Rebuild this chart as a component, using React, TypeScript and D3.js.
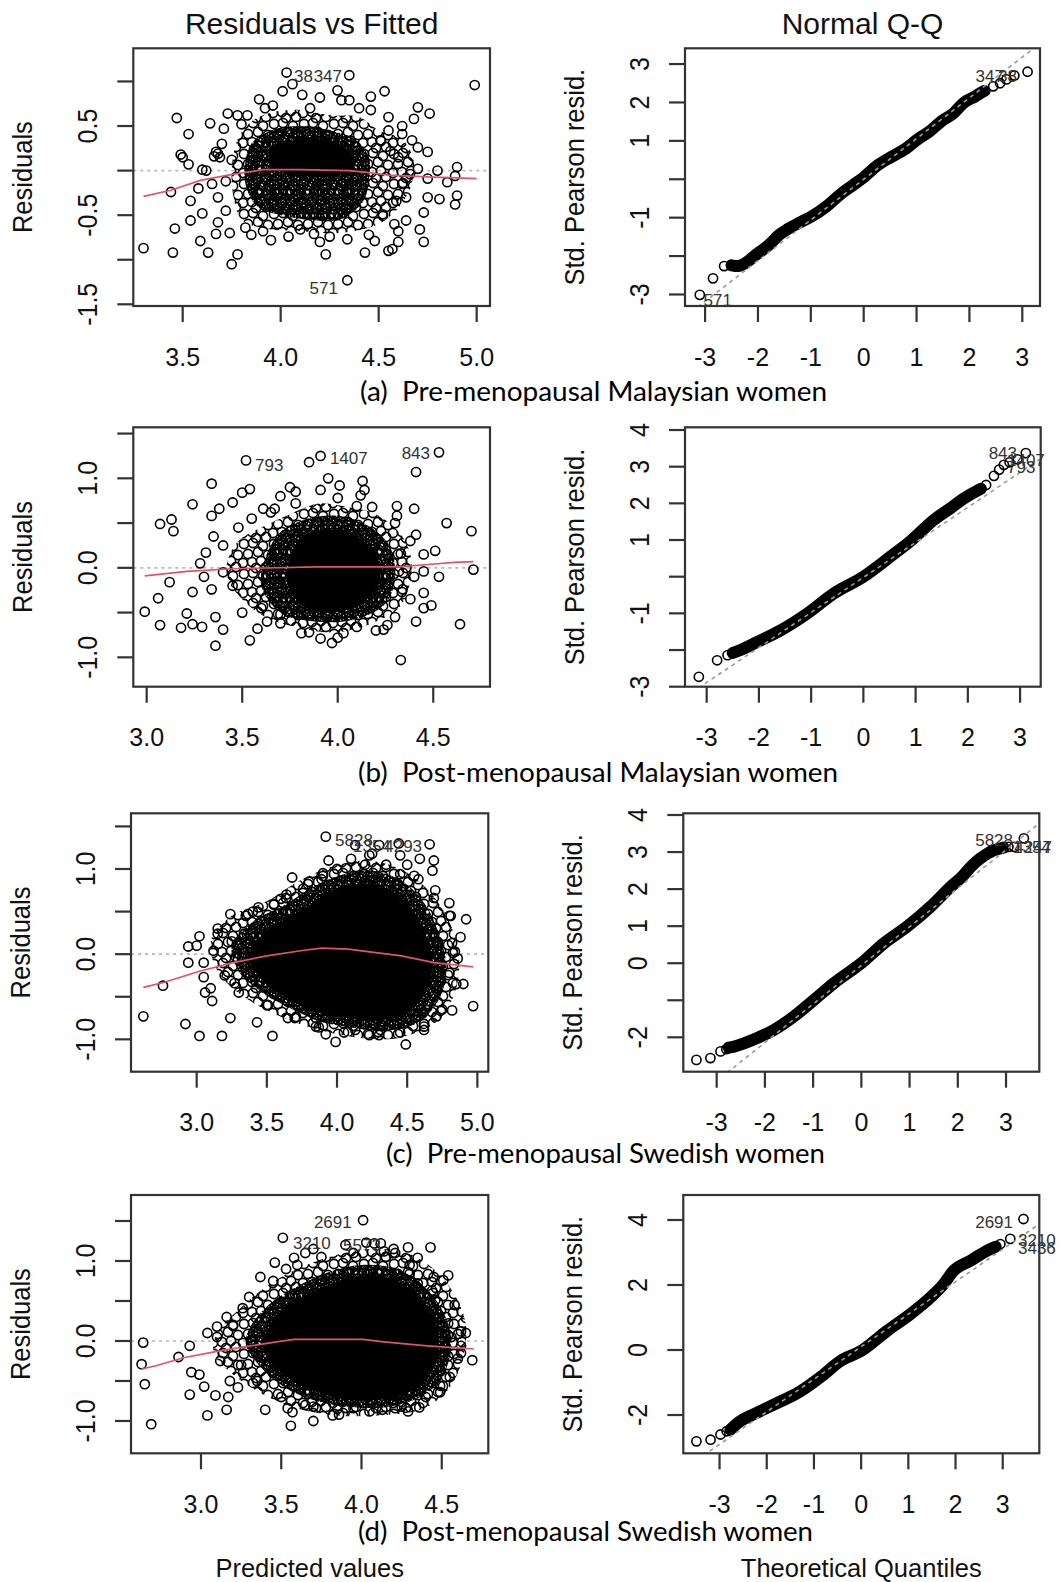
import React from 'react';
import * as d3 from 'd3';

type P = [number, number];
type Lab = [string, number, number, 'start' | 'end'];

// ---------------- (a) Pre-menopausal Malaysian women ----------------
const aResidPoints: P[] = [
  [3.30,-0.87],[3.45,-0.92],[3.47,0.59],[3.53,0.41],[3.49,0.18],[3.50,0.15],[3.53,0.07],[3.44,-0.24],[3.54,-0.34],[3.54,-0.56],
  [3.46,-0.65],[3.60,0.01],[3.64,0.53],[3.59,-0.79],[3.63,-0.92],[3.67,-0.71],[3.75,-1.05],[3.78,-0.94],[3.73,0.64],[3.78,0.62],
  [3.71,0.47],[3.83,0.62],[3.89,0.80],[3.96,0.73],[4.01,0.89],[4.03,1.10],[4.06,0.97],[4.11,0.85],[4.20,0.82],[4.29,0.90],
  [4.35,1.07],[4.31,0.79],[4.35,0.79],[4.46,0.83],[4.53,0.89],[4.46,0.68],[4.55,0.60],[4.70,0.71],[4.76,0.64],[4.68,0.58],
  [4.99,0.96],[4.75,0.21],[4.70,0.26],[4.90,0.04],[4.89,-0.06],[4.90,-0.28],[4.89,-0.38],[4.85,-0.13],[4.80,0.0],[4.75,-0.09],
  [4.81,-0.32],[4.75,-0.30],[4.73,-0.47],[4.71,-0.66],[4.73,-0.80],[4.64,-0.56],[4.60,-0.68],[4.60,-0.80],[4.57,-0.88],[4.55,-0.90],
  [4.43,-0.92],[4.48,-0.79],[4.34,-0.77],[4.34,-1.23],[4.23,-0.94],[4.25,-0.74],[4.17,-0.71],[4.10,-0.66],[4.04,-0.74],[3.91,-0.68],
  [3.82,-0.64],[4.52,-0.49],[4.59,-0.34],[4.64,-0.30],[4.66,-0.04],[4.70,0.02],[4.67,0.34],[4.62,0.41],[4.55,0.45],[4.51,0.34],
  [4.56,0.22],[3.66,0.16],[3.68,0.19],[3.67,0.21],[3.69,0.15],[3.62,0.0],[3.65,-0.15],[3.68,-0.30],[3.72,-0.45],[3.70,0.30],
  [3.75,0.12],[3.58,-0.20],[3.72,-0.12],[3.60,-0.48],[3.68,-0.58],[3.80,0.52],[3.92,0.70],[4.15,0.70],[4.40,0.70],[4.62,0.50],
  [4.60,0.15],[4.62,-0.15],[4.58,-0.60],[4.45,-0.72],[4.20,-0.80],[3.95,-0.78],[3.85,-0.72],[3.74,-0.70]
];
const aResidCore: P[] = [[3.78,0.35],[3.85,0.55],[3.95,0.65],[4.10,0.68],[4.25,0.62],[4.40,0.60],[4.50,0.45],[4.62,0.35],[4.68,0.10],[4.66,-0.20],[4.60,-0.42],[4.50,-0.60],[4.30,-0.70],[4.10,-0.68],[3.92,-0.65],[3.80,-0.55],[3.76,-0.30],[3.75,0.0]];
const aResidDense: P[] = [[3.85,0.30],[3.95,0.45],[4.10,0.50],[4.25,0.45],[4.38,0.35],[4.45,0.15],[4.45,-0.10],[4.42,-0.35],[4.30,-0.55],[4.15,-0.55],[4.00,-0.50],[3.88,-0.40],[3.82,-0.15],[3.82,0.10]];
const aResidSolid: P[] = [[3.95,0.25],[4.10,0.35],[4.30,0.30],[4.38,0.10],[4.30,-0.05],[4.10,-0.05],[3.95,0.05]];
const aLoess: P[] = [[3.30,-0.29],[3.44,-0.22],[3.59,-0.11],[3.76,-0.04],[3.91,0.01],[4.10,0.01],[4.35,0.0],[4.44,-0.02],[4.55,-0.05],[4.75,-0.07],[5.00,-0.09]];
const aResidLabels: Lab[] = [['38',4.068,1.06,'start'],['347',4.313,1.06,'end'],['571',4.292,-1.32,'end']];
const aResidXTicks = [3.5, 4.0, 4.5, 5.0];
const aResidXLabels = ['3.5', '4.0', '4.5', '5.0'];
const aResidYTicks = [-1.5, -1.0, -0.5, 0, 0.5, 1.0];
const aResidYLabels = ['-1.5', '', '-0.5', '', '0.5', ''];

const aQQBand: P[] = [[-2.50,-2.24],[-2.38,-2.26],[-2.20,-2.15],[-2.07,-2.0],[-1.80,-1.72],[-1.60,-1.45],[-1.44,-1.30],[-1.20,-1.12],[-1.00,-0.98],[-0.70,-0.70],[-0.43,-0.38],[-0.20,-0.15],[0.0,0.05],[0.25,0.35],[0.52,0.58],[0.80,0.80],[1.02,1.04],[1.25,1.25],[1.46,1.50],[1.70,1.72],[1.90,2.0],[2.10,2.15],[2.28,2.30]];
const aQQPoints: P[] = [[-3.10,-3.01],[-2.85,-2.58],[-2.64,-2.26],[2.30,2.30],[2.45,2.42],[2.58,2.50],[2.70,2.60],[2.85,2.70],[3.10,2.80]];
const aQQLine: P = [0.0, 1.06];
const aQQLabels: Lab[] = [['571',-3.03,-3.14,'start'],['347',2.653,2.69,'end'],['38',2.90,2.69,'end']];
const aQQYTicks = [-3, -2, -1, 0, 1, 2, 3];
const aQQYLabels = ['-3', '', '-1', '', '1', '2', '3'];

// ---------------- (b) Post-menopausal Malaysian women ----------------
const bResidPoints: P[] = [
  [2.99,-0.49],[3.07,-0.64],[3.06,-0.34],[3.07,0.49],[3.13,0.54],[3.14,0.41],[3.12,-0.16],[3.18,-0.67],[3.21,-0.51],[3.24,-0.63],
  [3.29,-0.66],[3.24,-0.27],[3.24,0.71],[3.34,0.94],[3.34,0.58],[3.38,0.66],[3.34,-0.24],[3.31,0.17],[3.36,-0.87],[3.40,-0.69],
  [3.36,-0.55],[3.45,0.73],[3.50,0.84],[3.54,0.88],[3.52,1.20],[3.54,-0.81],[3.58,-0.68],[3.63,-0.60],[3.61,0.66],[3.67,0.66],
  [3.70,0.80],[3.75,0.90],[3.78,0.85],[3.85,1.18],[3.91,1.25],[3.91,0.87],[3.95,1.00],[4.01,0.92],[4.13,0.97],[4.14,0.87],
  [4.12,0.81],[4.10,0.69],[4.31,0.69],[4.31,0.58],[4.40,0.66],[4.41,1.07],[4.53,1.29],[4.57,0.50],[4.70,0.41],[4.41,0.37],
  [4.45,0.15],[4.51,0.19],[4.45,-0.04],[4.53,-0.10],[4.71,-0.02],[4.45,-0.28],[4.45,-0.45],[4.49,-0.42],[4.41,-0.60],[4.64,-0.63],
  [4.33,-1.03],[4.34,-0.24],[4.24,-0.69],[4.26,-0.64],[4.10,-0.66],[4.03,-0.73],[3.97,-0.84],[3.91,-0.79],[3.81,-0.73],[3.70,-0.52],
  [4.33,0.16],[4.32,-0.04],[3.40,0.25],[3.45,-0.20],[3.48,0.45],[3.55,0.55],[3.60,-0.45],[3.50,-0.50],[3.65,0.62],[3.78,0.72],
  [4.00,0.78],[4.18,0.68],[4.30,0.50],[4.38,0.30],[4.40,-0.10],[4.38,-0.35],[4.30,-0.55],[4.20,-0.70],[4.00,-0.78],[3.85,-0.72],
  [3.70,-0.62],[3.40,-0.05],[3.35,0.35],[3.30,-0.10],[3.28,0.05]
];
const bResidCore: P[] = [[3.42,0.05],[3.48,0.30],[3.60,0.45],[3.75,0.60],[3.90,0.72],[4.05,0.68],[4.20,0.60],[4.32,0.40],[4.38,0.15],[4.38,-0.15],[4.32,-0.45],[4.18,-0.62],[4.00,-0.72],[3.82,-0.68],[3.62,-0.55],[3.50,-0.35],[3.43,-0.15]];
const bResidDense: P[] = [[3.62,0.10],[3.70,0.40],[3.85,0.55],[4.00,0.58],[4.15,0.48],[4.27,0.25],[4.30,-0.10],[4.25,-0.40],[4.08,-0.58],[3.88,-0.60],[3.70,-0.50],[3.60,-0.20]];
const bResidSolid: P[] = [[3.75,0.10],[3.82,0.35],[3.95,0.42],[4.10,0.35],[4.20,0.15],[4.22,-0.15],[4.12,-0.40],[3.95,-0.50],[3.82,-0.42],[3.74,-0.20]];
const bLoess: P[] = [[2.99,-0.09],[3.21,-0.04],[3.45,-0.01],[3.89,0.01],[4.32,0.01],[4.49,0.04],[4.61,0.06],[4.71,0.07]];
const bResidLabels: Lab[] = [['793',3.567,1.149,'start'],['1407',3.959,1.227,'start'],['843',4.483,1.283,'end']];
const bResidXTicks = [3.0, 3.5, 4.0, 4.5];
const bResidXLabels = ['3.0', '3.5', '4.0', '4.5'];
const bResidYTicks = [-1.0, -0.5, 0, 0.5, 1.0, 1.5];
const bResidYLabels = ['-1.0', '', '0.0', '', '1.0', ''];

const bQQBand: P[] = [[-2.50,-2.08],[-2.35,-2.0],[-2.03,-1.78],[-1.58,-1.46],[-1.07,-1.0],[-0.56,-0.45],[0.0,0.0],[0.52,0.55],[0.91,0.98],[1.35,1.55],[1.67,1.87],[1.93,2.14],[2.25,2.40]];
const bQQPoints: P[] = [[-3.15,-2.73],[-2.80,-2.28],[-2.60,-2.14],[-2.45,-2.05],[2.35,2.50],[2.50,2.75],[2.60,2.92],[2.69,3.05],[2.80,3.12],[2.95,3.20],[3.11,3.37]];
const bQQLine: P = [-0.02, 0.955];
const bQQLabels: Lab[] = [['843',2.942,3.373,'end'],['1407',2.75,3.18,'start'],['793',2.75,3.0,'start']];
const bQQYTicks = [-3, -2, -1, 0, 1, 2, 3, 4];
const bQQYLabels = ['-3', '', '-1', '', '1', '2', '3', '4'];

// ---------------- (c) Pre-menopausal Swedish women ----------------
const cResidPoints: P[] = [
  [2.62,-0.73],[2.76,-0.37],[2.92,-0.82],[3.02,-0.96],[2.94,0.09],[2.94,-0.10],[3.02,0.21],[3.05,-0.27],[3.06,-0.45],[3.11,-0.55],
  [3.12,0.04],[3.15,0.24],[3.18,-0.96],[3.24,-0.75],[3.24,0.47],[3.27,-0.34],[3.35,0.45],[3.44,0.55],[3.43,-0.80],[3.54,-0.96],
  [3.55,0.58],[3.64,0.70],[3.68,0.90],[3.65,-0.75],[3.76,0.77],[3.89,0.88],[3.94,1.10],[3.92,1.38],[3.99,-1.03],[3.92,-0.94],
  [3.87,-0.86],[4.13,1.28],[4.23,1.16],[4.30,1.28],[4.44,1.30],[4.45,1.16],[4.66,1.29],[4.69,1.10],[4.68,0.98],[4.59,1.12],
  [4.58,0.88],[4.45,0.94],[4.69,0.66],[4.80,0.60],[4.81,0.45],[4.92,0.41],[4.82,0.13],[4.84,0.03],[4.72,0.10],[4.69,0.22],
  [4.80,-0.22],[4.90,-0.35],[4.97,-0.61],[4.82,-0.66],[4.71,-0.73],[4.62,-0.89],[4.49,-1.06],[4.23,-0.95],[4.13,-0.89],[4.31,-0.89],
  [4.43,-0.81],[3.15,0.30],[3.25,0.15],[3.20,-0.25],[3.30,-0.45],[3.40,0.50],[3.50,-0.60],[3.60,0.65],[3.70,-0.75],[3.80,0.85],
  [3.85,-0.85],[4.00,1.00],[4.05,-0.92],[4.20,1.05],[4.30,-0.95],[4.35,1.05],[4.45,-0.92],[4.55,0.92],[4.62,-0.85],[4.70,0.75],
  [4.75,-0.65],[4.80,0.45],[4.85,-0.35],[4.88,0.20],[4.86,-0.05],[4.10,1.12],[4.25,1.18],[4.50,1.05],[3.90,0.95],[3.10,-0.40],
  [3.00,0.10],[3.05,-0.10]
];
const cResidCore: P[] = [[3.10,0.15],[3.25,0.45],[3.50,0.62],[3.72,0.85],[3.95,1.02],[4.20,1.10],[4.45,1.00],[4.65,0.75],[4.80,0.38],[4.87,-0.05],[4.84,-0.45],[4.72,-0.78],[4.45,-0.98],[4.15,-0.98],[3.85,-0.88],[3.58,-0.72],[3.32,-0.48],[3.15,-0.20]];
const cResidDense: P[] = [[3.25,0.10],[3.40,0.38],[3.62,0.57],[3.82,0.78],[4.03,0.93],[4.25,0.98],[4.47,0.85],[4.63,0.58],[4.73,0.22],[4.78,-0.15],[4.73,-0.52],[4.58,-0.80],[4.35,-0.90],[4.10,-0.86],[3.88,-0.79],[3.66,-0.63],[3.45,-0.43],[3.30,-0.20]];
const cResidSolid: P[] = [[3.40,0.10],[3.55,0.33],[3.75,0.52],[3.95,0.72],[4.18,0.83],[4.40,0.72],[4.55,0.48],[4.65,0.15],[4.68,-0.15],[4.62,-0.48],[4.48,-0.70],[4.28,-0.78],[4.05,-0.74],[3.85,-0.68],[3.65,-0.52],[3.48,-0.32],[3.38,-0.10]];
const cLoess: P[] = [[2.62,-0.39],[2.77,-0.33],[3.02,-0.20],[3.26,-0.10],[3.50,-0.02],[3.74,0.04],[3.89,0.07],[4.08,0.06],[4.22,0.03],[4.46,-0.02],[4.69,-0.10],[4.97,-0.15]];
const cResidLabels: Lab[] = [['5828',3.986,1.341,'start'],['1354',4.114,1.27,'start'],['4293',4.606,1.27,'end']];
const cResidXTicks = [3.0, 3.5, 4.0, 4.5, 5.0];
const cResidXLabels = ['3.0', '3.5', '4.0', '4.5', '5.0'];
const cResidYTicks = [-1.0, -0.5, 0, 0.5, 1.0, 1.5];
const cResidYLabels = ['-1.0', '', '0.0', '', '1.0', ''];

const cQQBand: P[] = [[-2.75,-2.28],[-2.64,-2.25],[-2.16,-2.02],[-1.81,-1.80],[-1.40,-1.44],[-0.98,-0.99],[-0.57,-0.54],[0.0,0.0],[0.47,0.54],[0.95,0.99],[1.44,1.53],[1.85,2.06],[2.10,2.35],[2.27,2.60],[2.47,2.83],[2.75,3.05],[2.95,3.12]];
const cQQPoints: P[] = [[-3.42,-2.61],[-3.13,-2.56],[-2.92,-2.38],[-2.80,-2.32],[3.05,3.14],[3.17,3.14],[3.37,3.37]];
const cQQLine: P = [-0.06, 1.04];
const cQQLabels: Lab[] = [['5828',3.145,3.325,'end'],['1354',3.145,3.15,'start'],['4247',3.17,3.15,'start']];
const cQQYTicks = [-2, -1, 0, 1, 2, 3, 4];
const cQQYLabels = ['-2', '', '0', '1', '2', '3', '4'];

// ---------------- (d) Post-menopausal Swedish women ----------------
const dResidPoints: P[] = [
  [2.64,-0.02],[2.63,-0.29],[2.65,-0.54],[2.69,-1.04],[2.86,-0.20],[2.93,-0.06],[2.94,-0.39],[2.93,-0.67],[2.99,-0.42],[3.02,-0.57],
  [3.04,-0.93],[3.09,-0.68],[3.04,0.10],[3.10,0.18],[3.16,0.30],[3.16,-0.86],[3.17,-0.70],[3.23,-0.58],[3.26,0.41],[3.37,0.80],
  [3.40,-0.86],[3.46,0.98],[3.51,1.29],[3.53,0.90],[3.56,-1.06],[3.54,-0.84],[3.57,-0.89],[3.58,1.04],[3.70,-1.00],[3.70,-0.82],
  [4.01,1.51],[3.82,-0.93],[3.86,-0.92],[3.95,-0.84],[4.03,1.23],[4.12,1.22],[4.14,1.12],[4.21,1.10],[4.29,1.17],[4.35,1.04],
  [4.43,1.17],[4.30,0.84],[4.35,0.72],[4.51,0.76],[4.54,0.82],[4.44,0.63],[4.46,0.51],[4.41,0.37],[4.54,0.22],[4.62,0.12],
  [4.56,0.05],[4.62,-0.06],[4.54,-0.19],[4.60,-0.22],[4.69,-0.24],[4.49,-0.56],[4.49,-0.64],[4.36,-0.83],[4.29,-0.88],[4.21,-0.84],
  [4.13,-0.86],[3.20,0.20],[3.25,-0.30],[3.30,0.55],[3.35,-0.50],[3.45,0.75],[3.50,-0.70],[3.60,0.95],[3.65,-0.80],[3.75,1.05],
  [3.85,-0.85],[3.95,1.10],[4.05,-0.88],[4.15,1.05],[4.25,-0.82],[4.30,0.95],[4.40,-0.70],[4.45,0.80],[4.55,-0.45],[4.58,0.45],
  [4.62,-0.15],[4.65,0.10],[3.12,-0.25],[3.10,0.05],[3.18,-0.50],[3.70,1.15],[3.90,1.20],[4.20,1.15],[3.65,1.10],[4.08,1.22]
];
const dResidCore: P[] = [[3.10,0.10],[3.25,0.42],[3.42,0.70],[3.60,0.90],[3.80,1.05],[4.05,1.15],[4.28,1.10],[4.45,0.90],[4.58,0.58],[4.65,0.20],[4.63,-0.22],[4.55,-0.58],[4.38,-0.85],[4.10,-0.93],[3.85,-0.93],[3.58,-0.83],[3.38,-0.66],[3.20,-0.42],[3.08,-0.15]];
const dResidDense: P[] = [[3.30,0.15],[3.42,0.45],[3.58,0.66],[3.78,0.85],[4.00,0.95],[4.22,0.90],[4.38,0.70],[4.50,0.40],[4.56,0.02],[4.52,-0.38],[4.40,-0.66],[4.18,-0.82],[3.90,-0.82],[3.67,-0.72],[3.50,-0.55],[3.36,-0.30],[3.28,-0.05]];
const dResidSolid: P[] = [[3.42,0.15],[3.52,0.42],[3.68,0.60],[3.85,0.74],[4.03,0.82],[4.22,0.75],[4.36,0.55],[4.45,0.28],[4.48,-0.05],[4.44,-0.38],[4.32,-0.62],[4.12,-0.73],[3.90,-0.73],[3.70,-0.62],[3.55,-0.47],[3.43,-0.25],[3.38,0.0]];
const dLoess: P[] = [[2.63,-0.35],[2.72,-0.31],[2.89,-0.21],[3.10,-0.13],[3.28,-0.07],[3.47,-0.01],[3.58,0.02],[3.83,0.02],[4.01,0.02],[4.14,-0.01],[4.24,-0.03],[4.41,-0.06],[4.70,-0.10]];
const dResidLabels: Lab[] = [['2691',3.939,1.491,'end'],['3210',3.573,1.225,'start'],['5573',3.885,1.20,'start']];
const dResidXTicks = [3.0, 3.5, 4.0, 4.5];
const dResidXLabels = ['3.0', '3.5', '4.0', '4.5'];
const dResidYTicks = [-1.0, -0.5, 0, 0.5, 1.0, 1.5];
const dResidYLabels = ['-1.0', '', '0.0', '', '1.0', ''];

const dQQBand: P[] = [[-2.77,-2.45],[-2.56,-2.19],[-2.28,-1.98],[-1.85,-1.68],[-1.29,-1.27],[-0.79,-0.75],[-0.44,-0.34],[0.0,-0.03],[0.55,0.59],[1.04,1.10],[1.47,1.62],[1.75,2.03],[1.96,2.44],[2.32,2.75],[2.67,3.06],[2.85,3.18]];
const dQQPoints: P[] = [[-3.49,-2.81],[-3.19,-2.76],[-2.98,-2.60],[-2.85,-2.50],[2.95,3.26],[3.16,3.42],[3.44,4.03]];
const dQQLine: P = [0.1, 1.0];
const dQQLabels: Lab[] = [['2691',3.218,3.948,'end'],['3210',3.324,3.385,'start'],['3436',3.324,3.14,'start']];
const dQQYTicks = [-2, 0, 2, 4];
const dQQYLabels = ['-2', '0', '2', '4'];

const qqXTicks = [-3, -2, -1, 0, 1, 2, 3];
const qqXLabels = ['-3', '-2', '-1', '0', '1', '2', '3'];

const captions = [
  '(a)  Pre-menopausal Malaysian women',
  '(b)  Post-menopausal Malaysian women',
  '(c)  Pre-menopausal Swedish women',
  '(d)  Post-menopausal Swedish women'
];

// ---------------- styling ----------------
const FONT = "'Liberation Sans', Arial, Helvetica, sans-serif";
const AX = '#333';
const RING_R = 4.6;
const RING_W = 1.6;
const MED_TILE: P[] = [[4,4],[13,3],[23,6],[28,15],[18,12],[8,14],[3,23],[12,22],[21,21],[26,27],[16,28]];
const DENSE_TILE: P[] = [
  [2,2],[8,2.5],[13,1.5],[19,2],[5,7],[10.5,7.5],[16,6.5],[22,7],[1.5,12],[7.5,12.5],[13,12],[18.5,11.5],
  [4.5,17],[10,17.5],[15.5,16.5],[21.5,17],[2,22],[7,22.5],[13,21.5],[19,22]
];

function wrap(pts: P[], w: number, h: number): P[] {
  const out: P[] = [];
  for (const [x, y] of pts) for (const dx of [-w, 0, w]) for (const dy of [-h, 0, h]) out.push([x + dx, y + dy]);
  return out;
}

function Defs() {
  return (
    <defs>
      <pattern id="ringsMed" width={30} height={30} patternUnits="userSpaceOnUse">
        {wrap(MED_TILE, 30, 30).map(([x, y], i) => (
          <circle key={i} cx={x} cy={y} r={RING_R} fill="none" stroke="#000" strokeWidth={RING_W} />
        ))}
      </pattern>
      <pattern id="ringsDense" width={24} height={24} patternUnits="userSpaceOnUse">
        {wrap(DENSE_TILE, 24, 24).map(([x, y], i) => (
          <circle key={i} cx={x} cy={y} r={RING_R} fill="none" stroke="#000" strokeWidth={RING_W} />
        ))}
      </pattern>
    </defs>
  );
}

type Box = { l: number; t: number; r: number; b: number };

function Axes(props: {
  x: d3.ScaleLinear<number, number>; y: d3.ScaleLinear<number, number>; box: Box;
  xTicks: number[]; xLabels: string[]; yTicks: number[]; yLabels: string[];
}) {
  const { x, y, box, xTicks, xLabels, yTicks, yLabels } = props;
  return (
    <g fontFamily={FONT}>
      {xTicks.map((v, i) => (
        <g key={'x' + i}>
          <line x1={x(v)} x2={x(v)} y1={box.b} y2={box.b + 16} stroke={AX} strokeWidth={2.2} />
          {xLabels[i] ? (
            <text x={x(v)} y={box.b + 59.5} textAnchor="middle" fontSize={25} fill="#111">{xLabels[i]}</text>
          ) : null}
        </g>
      ))}
      {yTicks.map((v, i) => (
        <g key={'y' + i}>
          <line x1={box.l - 16} x2={box.l} y1={y(v)} y2={y(v)} stroke={AX} strokeWidth={2.2} />
          {yLabels[i] ? (
            <text transform={`translate(${box.l - 46.5},${y(v)}) scale(1.12,1) rotate(-90)`} textAnchor="middle" dy="0.36em" fontSize={25} fill="#111">{yLabels[i]}</text>
          ) : null}
        </g>
      ))}
      <rect x={box.l} y={box.t} width={box.r - box.l} height={box.b - box.t} fill="none" stroke={AX} strokeWidth={2.2} />
    </g>
  );
}

function PointLabels({ labels, x, y }: { labels: Lab[]; x: d3.ScaleLinear<number, number>; y: d3.ScaleLinear<number, number> }) {
  return (
    <g fontFamily={FONT} fontSize={17} fill="#333">
      {labels.map(([t, lx, ly, anchor], i) => (
        <text key={i} x={x(lx)} y={y(ly)} dy="0.36em" textAnchor={anchor}>{t}</text>
      ))}
    </g>
  );
}

function Titles({ box, title, xTitle, yTitle }: { box: Box; title?: string; xTitle?: string; yTitle: string }) {
  const cx = (box.l + box.r) / 2;
  const cy = (box.t + box.b) / 2;
  return (
    <g fontFamily={FONT} fill="#111">
      {title ? <text x={cx} y={34} textAnchor="middle" fontSize={30}>{title}</text> : null}
      {xTitle ? <text x={cx} y={1577} textAnchor="middle" fontSize={25.5}>{xTitle}</text> : null}
      <text transform={`translate(${box.l - 111},${cy}) scale(1.08,1) rotate(-90)`} textAnchor="middle" dy="0.36em" fontSize={25.5}>{yTitle}</text>
    </g>
  );
}

function ResidPanel(props: {
  id: string; box: Box; xDomain: P; yDomain: P;
  xTicks: number[]; xLabels: string[]; yTicks: number[]; yLabels: string[];
  points: P[]; core: P[]; dense: P[]; solid: P[]; solidFill: string; loess: P[]; labels: Lab[];
  title?: string; xTitle?: string;
}) {
  const { id, box, xDomain, yDomain, points, core, dense, solid, solidFill, loess, labels } = props;
  const x = d3.scaleLinear().domain(xDomain).range([box.l, box.r]);
  const y = d3.scaleLinear().domain(yDomain).range([box.b, box.t]);
  const blob = d3.line<P>().x(d => x(d[0])).y(d => y(d[1])).curve(d3.curveCatmullRomClosed.alpha(0.5));
  const line = d3.line<P>().x(d => x(d[0])).y(d => y(d[1]));
  return (
    <g>
      <clipPath id={id}><rect x={box.l} y={box.t} width={box.r - box.l} height={box.b - box.t} /></clipPath>
      <g clipPath={`url(#${id})`}>
        <line x1={box.l} x2={box.r} y1={y(0)} y2={y(0)} stroke="#b8b8b8" strokeWidth={1.6} strokeDasharray="3 4" />
        <path d={blob(core) || ''} fill="url(#ringsMed)" />
        <path d={blob(dense) || ''} fill="url(#ringsDense)" />
        <path d={blob(solid) || ''} fill={solidFill} />
        {points.map(([px, py], i) => (
          <circle key={i} cx={x(px)} cy={y(py)} r={RING_R} fill="none" stroke="#000" strokeWidth={RING_W} />
        ))}
        <path d={line(loess) || ''} fill="none" stroke="#DF536B" strokeWidth={1.7} />
      </g>
      <PointLabels labels={labels} x={x} y={y} />
      <Axes x={x} y={y} box={box} xTicks={props.xTicks} xLabels={props.xLabels} yTicks={props.yTicks} yLabels={props.yLabels} />
      <Titles box={box} title={props.title} xTitle={props.xTitle} yTitle="Residuals" />
    </g>
  );
}

function QQPanel(props: {
  id: string; box: Box; xDomain: P; yDomain: P;
  xTicks: number[]; xLabels: string[]; yTicks: number[]; yLabels: string[];
  band: P[]; points: P[]; qqLine: P; labels: Lab[];
  title?: string; xTitle?: string;
}) {
  const { id, box, xDomain, yDomain, band, points, qqLine, labels } = props;
  const x = d3.scaleLinear().domain(xDomain).range([box.l, box.r]);
  const y = d3.scaleLinear().domain(yDomain).range([box.b, box.t]);
  const line = d3.line<P>().x(d => x(d[0])).y(d => y(d[1])).curve(d3.curveMonotoneX);
  const [a, b] = qqLine;
  return (
    <g>
      <clipPath id={id}><rect x={box.l} y={box.t} width={box.r - box.l} height={box.b - box.t} /></clipPath>
      <g clipPath={`url(#${id})`}>
        <path d={line(band) || ''} fill="none" stroke="#000" strokeWidth={12} strokeLinecap="round" strokeLinejoin="round" />
        {points.map(([px, py], i) => (
          <circle key={i} cx={x(px)} cy={y(py)} r={RING_R} fill="none" stroke="#000" strokeWidth={RING_W} />
        ))}
        <line x1={x(xDomain[0])} y1={y(a + b * xDomain[0])} x2={x(xDomain[1])} y2={y(a + b * xDomain[1])}
          stroke="#9a9a9a" strokeWidth={1.6} strokeDasharray="4 4" />
      </g>
      <PointLabels labels={labels} x={x} y={y} />
      <Axes x={x} y={y} box={box} xTicks={props.xTicks} xLabels={props.xLabels} yTicks={props.yTicks} yLabels={props.yLabels} />
      <Titles box={box} title={props.title} xTitle={props.xTitle} yTitle="Std. Pearson resid." />
    </g>
  );
}

const captionPos: { x: number; y: number; w: number }[] = [
  { x: 360, y: 401, w: 467 },
  { x: 358, y: 782, w: 480 },
  { x: 386, y: 1163, w: 439 },
  { x: 358, y: 1541, w: 455 }
];

export default function App() {
  return (
    <svg width={1064} height={1582} viewBox="0 0 1064 1582"
      style={{ position: 'absolute', left: 0, top: 0, background: '#fff' }}>
      <Defs />
      <rect x={0} y={0} width={1064} height={1582} fill="#fff" />

      <ResidPanel id="ca1" box={{ l: 133.3, t: 48.3, r: 490, b: 306 }} xDomain={[3.248, 5.068]} yDomain={[-1.519, 1.372]}
        xTicks={aResidXTicks} xLabels={aResidXLabels} yTicks={aResidYTicks} yLabels={aResidYLabels}
        points={aResidPoints} core={aResidCore} dense={aResidDense} solid={aResidSolid} solidFill="#000"
        loess={aLoess} labels={aResidLabels} title="Residuals vs Fitted" />
      <QQPanel id="ca2" box={{ l: 685, t: 48.3, r: 1040, b: 306 }} xDomain={[-3.38, 3.335]} yDomain={[-3.30, 3.41]}
        xTicks={qqXTicks} xLabels={qqXLabels} yTicks={aQQYTicks} yLabels={aQQYLabels}
        band={aQQBand} points={aQQPoints} qqLine={aQQLine} labels={aQQLabels} title="Normal Q-Q" />

      <ResidPanel id="cb1" box={{ l: 133.3, t: 427.3, r: 490, b: 686.7 }} xDomain={[2.930, 4.797]} yDomain={[-1.328, 1.570]}
        xTicks={bResidXTicks} xLabels={bResidXLabels} yTicks={bResidYTicks} yLabels={bResidYLabels}
        points={bResidPoints} core={bResidCore} dense={bResidDense} solid={bResidSolid} solidFill="#000"
        loess={bLoess} labels={bResidLabels} />
      <QQPanel id="cb2" box={{ l: 685, t: 427.3, r: 1040.7, b: 686.7 }} xDomain={[-3.415, 3.395]} yDomain={[-3.0, 4.074]}
        xTicks={qqXTicks} xLabels={qqXLabels} yTicks={bQQYTicks} yLabels={bQQYLabels}
        band={bQQBand} points={bQQPoints} qqLine={bQQLine} labels={bQQLabels} />

      <ResidPanel id="cc1" box={{ l: 131, t: 813.3, r: 488.3, b: 1071.7 }} xDomain={[2.532, 5.078]} yDomain={[-1.380, 1.654]}
        xTicks={cResidXTicks} xLabels={cResidXLabels} yTicks={cResidYTicks} yLabels={cResidYLabels}
        points={cResidPoints} core={cResidCore} dense={cResidDense} solid={cResidSolid} solidFill="#000"
        loess={cLoess} labels={cResidLabels} />
      <QQPanel id="cc2" box={{ l: 683.3, t: 813.3, r: 1039.3, b: 1071.7 }} xDomain={[-3.692, 3.690]} yDomain={[-2.928, 4.046]}
        xTicks={qqXTicks} xLabels={qqXLabels} yTicks={cQQYTicks} yLabels={cQQYLabels}
        band={cQQBand} points={cQQPoints} qqLine={cQQLine} labels={cQQLabels} />

      <ResidPanel id="cd1" box={{ l: 131, t: 1195, r: 488.3, b: 1453.3 }} xDomain={[2.564, 4.790]} yDomain={[-1.404, 1.825]}
        xTicks={dResidXTicks} xLabels={dResidXLabels} yTicks={dResidYTicks} yLabels={dResidYLabels}
        points={dResidPoints} core={dResidCore} dense={dResidDense} solid={dResidSolid} solidFill="#000"
        loess={dLoess} labels={dResidLabels} xTitle="Predicted values" />
      <QQPanel id="cd2" box={{ l: 683.3, t: 1195, r: 1039.3, b: 1453.3 }} xDomain={[-3.768, 3.775]} yDomain={[-3.178, 4.769]}
        xTicks={qqXTicks} xLabels={qqXLabels} yTicks={dQQYTicks} yLabels={dQQYLabels}
        band={dQQBand} points={dQQPoints} qqLine={dQQLine} labels={dQQLabels} xTitle="Theoretical Quantiles" />

      <g fontFamily="Lato, 'Open Sans', sans-serif" fontSize={26} fill="#000">
        {captions.map((c, i) => (
          <text key={i} x={captionPos[i].x} y={captionPos[i].y} textLength={captionPos[i].w}
            lengthAdjust="spacingAndGlyphs" style={{ whiteSpace: 'pre' }}>{c}</text>
        ))}
      </g>
    </svg>
  );
}
